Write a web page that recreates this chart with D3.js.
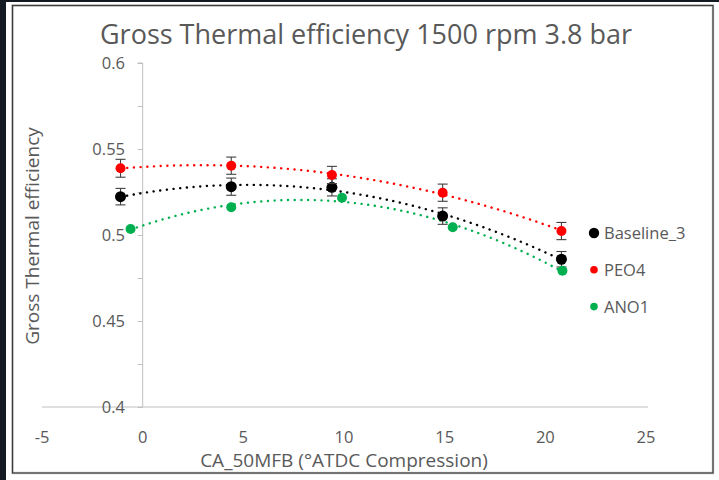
<!DOCTYPE html>
<html>
<head>
<meta charset="utf-8">
<script src="https://cdn.jsdelivr.net/npm/d3@7"></script>
<style>
  html, body { margin: 0; padding: 0; background: #131a22; }
  svg { display: block; }
  text { font-family: "Open Sans", "Noto Sans", sans-serif; fill: #595959; }
</style>
</head>
<body>
<svg id="chart" width="719" height="480"></svg>
<script>
const SERIES_NAMES = ["Baseline_3", "PEO4", "ANO1"];
const SERIES_COLORS = ["#000000", "#ff0000", "#00b050"];
const BASELINE_X = [-1.1, 4.4, 9.4, 14.9, 20.8];
const BASELINE_Y = [0.5223, 0.5281, 0.5277, 0.5110, 0.4859];
const BASELINE_ERR = [0.0048, 0.0050, 0.0050, 0.0048, 0.0045];
const PEO4_X = [-1.1, 4.4, 9.4, 14.9, 20.8];
const PEO4_Y = [0.5388, 0.5403, 0.5349, 0.5246, 0.5023];
const PEO4_ERR = [0.0052, 0.0050, 0.0050, 0.0050, 0.0050];
const ANO1_X = [-0.6, 4.4, 9.9, 15.4, 20.85];
const ANO1_Y = [0.5035, 0.5161, 0.5217, 0.5045, 0.4792];
const X_TICKS = [-5, 0, 5, 10, 15, 20, 25];
const Y_TICKS = [0.4, 0.45, 0.5, 0.55, 0.6];
const Y_MINOR_TICKS = [0.4, 0.425, 0.45, 0.475, 0.5, 0.525, 0.55, 0.575, 0.6];

const series = [
  { name: SERIES_NAMES[0], color: SERIES_COLORS[0], xs: BASELINE_X, ys: BASELINE_Y, errs: BASELINE_ERR, r: 5.5, legendR: 5.2 },
  { name: SERIES_NAMES[1], color: SERIES_COLORS[1], xs: PEO4_X, ys: PEO4_Y, errs: PEO4_ERR, r: 5, legendR: 3.8 },
  { name: SERIES_NAMES[2], color: SERIES_COLORS[2], xs: ANO1_X, ys: ANO1_Y, errs: null, r: 5, legendR: 3.8 }
];

// least squares quadratic, like the excel trendline
function fitQuadratic(xs, ys) {
  const n = xs.length;
  let s = [0, 0, 0, 0, 0];
  let t = [0, 0, 0];
  for (let i = 0; i < n; i += 1) {
    let p = 1;
    for (let k = 0; k < 5; k += 1) {
      s[k] += p;
      if (k < 3) {
        t[k] += p * ys[i];
      }
      p *= xs[i];
    }
  }
  const m = [[s[0], s[1], s[2], t[0]], [s[1], s[2], s[3], t[1]], [s[2], s[3], s[4], t[2]]];
  for (let c = 0; c < 3; c += 1) {
    for (let r = c + 1; r < 3; r += 1) {
      const f = m[r][c] / m[c][c];
      for (let k = c; k < 4; k += 1) {
        m[r][k] -= f * m[c][k];
      }
    }
  }
  const coef = [0, 0, 0];
  for (let r = 2; r >= 0; r -= 1) {
    let v = m[r][3];
    for (let k = r + 1; k < 3; k += 1) {
      v -= m[r][k] * coef[k];
    }
    coef[r] = v / m[r][r];
  }
  return (x) => coef[0] + coef[1] * x + coef[2] * x * x;
}

const svg = d3.select("#chart");

svg.append("rect").attr("x", 6).attr("y", 2).attr("width", 713).attr("height", 478).attr("fill", "#ffffff");
svg.append("rect").attr("x", 12.5).attr("y", 5.5).attr("width", 700.5).attr("height", 467.5)
  .attr("fill", "none").attr("stroke", "#c8c8c8").attr("stroke-width", 2.5);
svg.append("rect").attr("x", 12.5).attr("y", 5.5).attr("width", 700.5).attr("height", 467.5)
  .attr("fill", "none").attr("stroke", "#3c3c3c").attr("stroke-width", 1.2);

const x = d3.scaleLinear().domain([-5, 25]).range([42, 646]);
const y = d3.scaleLinear().domain([0.4, 0.6]).range([407, 63]);

svg.append("text")
  .attr("x", 366).attr("y", 43.5)
  .attr("text-anchor", "middle")
  .attr("font-size", 27)
  .text("Gross Thermal efficiency 1500 rpm 3.8 bar");

// horizontal axis line at 0.4
svg.append("line")
  .attr("x1", x(-5)).attr("x2", x(25) + 2)
  .attr("y1", y(0.4)).attr("y2", y(0.4))
  .attr("stroke", "#bfbfbf").attr("stroke-width", 1);

const yAxis = svg.append("g")
  .attr("transform", `translate(${x(0)},0)`)
  .call(d3.axisLeft(y).tickValues(Y_MINOR_TICKS).tickSize(5).tickFormat(""));
yAxis.selectAll("path, line").attr("stroke", "#bfbfbf");
yAxis.select(".domain").attr("d", `M-5,${y(0.6)}H0V${y(0.4)}`);

svg.append("g")
  .selectAll("text")
  .data(Y_TICKS)
  .join("text")
  .attr("x", 125)
  .attr("y", (d) => y(d))
  .attr("dy", "0.36em")
  .attr("text-anchor", "end")
  .attr("font-size", 16.5)
  .text((d) => d3.format("")(d));

svg.append("g")
  .selectAll("text")
  .data(X_TICKS)
  .join("text")
  .attr("x", (d) => x(d))
  .attr("y", 437)
  .attr("dy", "0.36em")
  .attr("text-anchor", "middle")
  .attr("font-size", 16.5)
  .text((d) => d);

svg.append("text")
  .attr("x", 344).attr("y", 467)
  .attr("text-anchor", "middle")
  .attr("font-size", 19)
  .text("CA_50MFB (°ATDC Compression)");

svg.append("text")
  .attr("transform", `translate(39,236) rotate(-90)`)
  .attr("text-anchor", "middle")
  .attr("font-size", 19)
  .text("Gross Thermal efficiency");

const plot = svg.append("g");

for (const s of series) {
  const f = fitQuadratic(s.xs, s.ys);
  const x0 = d3.min(s.xs);
  const x1 = d3.max(s.xs);
  const pts = d3.range(0, 101).map((i) => x0 + (x1 - x0) * i / 100);
  plot.append("path")
    .attr("d", d3.line().x((d) => x(d)).y((d) => y(f(d)))(pts))
    .attr("fill", "none")
    .attr("stroke", s.color)
    .attr("stroke-width", 2.4)
    .attr("stroke-linecap", "round")
    .attr("stroke-dasharray", "0.1 6.6");
}

for (const s of series) {
  const data = s.xs.map((xv, i) => ({ x: xv, y: s.ys[i], e: s.errs ? s.errs[i] : 0 }));
  const g = plot.append("g");
  if (s.errs) {
    const eb = g.selectAll("g.err").data(data).join("g").attr("class", "err")
      .attr("stroke", "#404040").attr("stroke-width", 1.1);
    eb.append("line")
      .attr("x1", (d) => x(d.x)).attr("x2", (d) => x(d.x))
      .attr("y1", (d) => y(d.y + d.e)).attr("y2", (d) => y(d.y - d.e));
    eb.append("line")
      .attr("x1", (d) => x(d.x) - 5).attr("x2", (d) => x(d.x) + 5)
      .attr("y1", (d) => y(d.y + d.e)).attr("y2", (d) => y(d.y + d.e));
    eb.append("line")
      .attr("x1", (d) => x(d.x) - 5).attr("x2", (d) => x(d.x) + 5)
      .attr("y1", (d) => y(d.y - d.e)).attr("y2", (d) => y(d.y - d.e));
  }
  g.selectAll("circle").data(data).join("circle")
    .attr("cx", (d) => x(d.x))
    .attr("cy", (d) => y(d.y))
    .attr("r", s.r)
    .attr("fill", s.color);
}

const legend = svg.append("g").attr("transform", "translate(594,233)");
const item = legend.selectAll("g").data(series).join("g")
  .attr("transform", (d, i) => `translate(0,${i * 36.8})`);
item.append("circle").attr("r", (d) => d.legendR).attr("fill", (d) => d.color);
item.append("text").attr("x", 10).attr("dy", "0.36em").attr("font-size", 16.5).text((d) => d.name);
</script>
</body>
</html>
